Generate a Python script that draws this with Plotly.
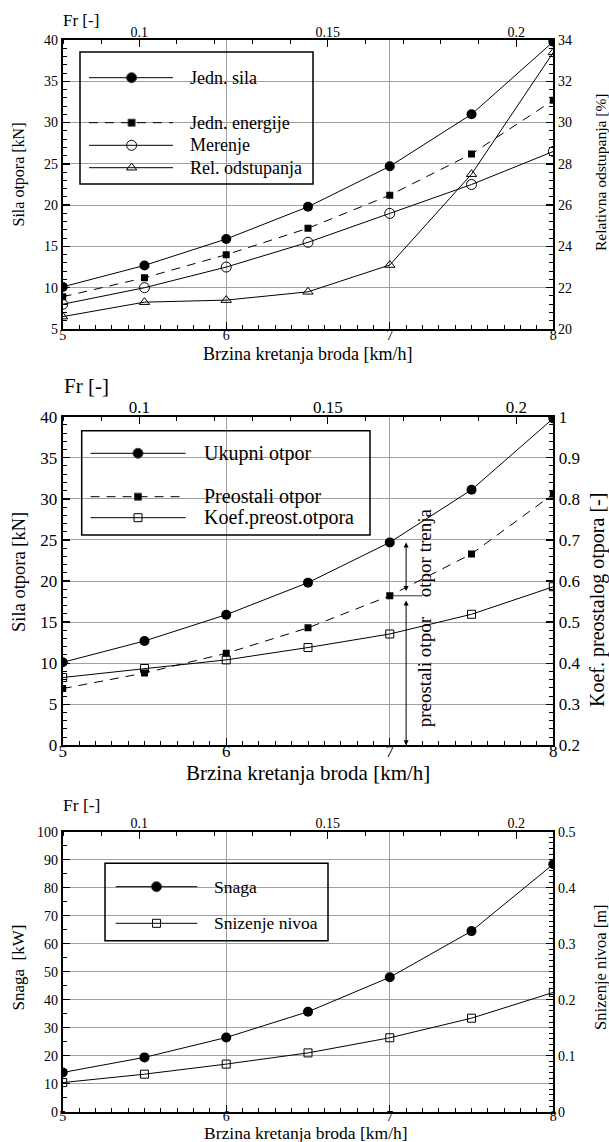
import plotly.graph_objects as go

# ---------------- data ----------------
speed = [5, 5.5, 6, 6.5, 7, 7.5, 8]           # km/h
x_ticks = [5, 6, 7, 8]
fr_ticks = [0.1, 0.15, 0.2]
fr_range = [0.0797, 0.2098]                  # Fr at 5 km/h and 8 km/h

# chart 1
jedn_sila = [10.1, 12.7, 15.9, 19.8, 24.7, 31.0, 39.8]
jedn_energije = [8.9, 11.2, 14.0, 17.2, 21.2, 26.2, 32.7]
merenje = [8.0, 10.0, 12.5, 15.5, 19.0, 22.5, 26.5]
rel_odstupanja = [20.6, 21.3, 21.4, 21.8, 23.1, 27.5, 33.4]
c1_left_ticks = [5, 10, 15, 20, 25, 30, 35, 40]
c1_right_ticks = [20, 22, 24, 26, 28, 30, 32, 34]

# chart 2
ukupni_otpor = [10.1, 12.7, 15.9, 19.8, 24.7, 31.1, 39.8]
preostali_otpor = [6.9, 8.8, 11.2, 14.3, 18.2, 23.3, 30.6]
koef_preost = [0.365, 0.387, 0.408, 0.438, 0.471, 0.519, 0.586]
c2_left_ticks = [0, 5, 10, 15, 20, 25, 30, 35, 40]
c2_right_ticks = [0.2, 0.3, 0.4, 0.5, 0.6, 0.7, 0.8, 0.9, 1]
c2_right_labels = ["0.2", "0.3", "0.4", "0.5", "0.6", "0.7", "0.8", "0.9", "1"]
split_speed = 7.1
split_total = 24.7
split_resid = 18.2

# chart 3
snaga = [14.0, 19.4, 26.5, 35.7, 48.0, 64.5, 88.4]
snizenje = [0.052, 0.067, 0.085, 0.105, 0.132, 0.167, 0.213]
c3_left_ticks = [0, 10, 20, 30, 40, 50, 60, 70, 80, 90, 100]
c3_right_ticks = [0, 0.1, 0.2, 0.3, 0.4, 0.5]
c3_right_labels = ["0", "0.1", "0.2", "0.3", "0.4", "0.5"]

# ---------------- layout helpers ----------------
W, H = 609, 1142
FONT = "Liberation Serif, Times New Roman, serif"
X_LEFT, X_RIGHT = 62.7, 553.3
C1 = (40.0, 329.0)
C2 = (416.7, 745.3)
C3 = (831.7, 1111.7)
GRID = "#a0a0a0"


def xd():
    return [X_LEFT / W, X_RIGHT / W]


def yd(c):
    return [1 - c[1] / H, 1 - c[0] / H]


def axis(fs, minor_dtick, grid, **kw):
    d = dict(showline=True, linecolor="black", linewidth=2, ticks="inside",
             ticklen=7, tickwidth=1.3, tickcolor="black", zeroline=False,
             automargin=False, showgrid=grid, gridcolor=GRID, gridwidth=1,
             tickfont=dict(family=FONT, size=fs, color="black"),
             minor=dict(ticks="inside", ticklen=4, tickwidth=1, tickcolor="black",
                        dtick=minor_dtick, showgrid=False),
             fixedrange=True)
    d.update(kw)
    return d


fig = go.Figure()
L = dict(color="black", width=1)
LD = dict(color="black", width=1, dash="9px,7px")

# chart 1 traces
fig.add_trace(go.Scatter(x=speed, y=jedn_sila, mode="lines+markers", line=L,
                         marker=dict(symbol="circle", size=10, color="black"), xaxis="x", yaxis="y"))
fig.add_trace(go.Scatter(x=speed, y=jedn_energije, mode="lines+markers", line=LD,
                         marker=dict(symbol="square", size=7, color="black"), xaxis="x", yaxis="y"))
fig.add_trace(go.Scatter(x=speed, y=merenje, mode="lines+markers", line=L,
                         marker=dict(symbol="circle-open", size=10, color="black", line=dict(width=1)),
                         xaxis="x", yaxis="y"))
fig.add_trace(go.Scatter(x=speed, y=rel_odstupanja, mode="lines+markers", line=L,
                         marker=dict(symbol="triangle-up-open", size=9, color="black", line=dict(width=1)),
                         xaxis="x", yaxis="y2"))

# chart 2 traces
fig.add_trace(go.Scatter(x=speed, y=ukupni_otpor, mode="lines+markers", line=L,
                         marker=dict(symbol="circle", size=10, color="black"), xaxis="x3", yaxis="y3"))
fig.add_trace(go.Scatter(x=speed, y=preostali_otpor, mode="lines+markers", line=LD,
                         marker=dict(symbol="square", size=7, color="black"), xaxis="x3", yaxis="y3"))
fig.add_trace(go.Scatter(x=speed, y=koef_preost, mode="lines+markers", line=L,
                         marker=dict(symbol="square-open", size=8, color="black", line=dict(width=1)),
                         xaxis="x3", yaxis="y4"))

# chart 3 traces
fig.add_trace(go.Scatter(x=speed, y=snaga, mode="lines+markers", line=L,
                         marker=dict(symbol="circle", size=10, color="black"), xaxis="x5", yaxis="y5"))
fig.add_trace(go.Scatter(x=speed, y=snizenje, mode="lines+markers", line=L,
                         marker=dict(symbol="square-open", size=8, color="black", line=dict(width=1)),
                         xaxis="x5", yaxis="y6"))

# ---------------- axes ----------------
lay = {}
charts = [
    ("", "2", "", "2", C1, 14, [5, 40], c1_left_ticks, 1, [20, 34], c1_right_ticks, None, 0.4, -8, -5),
    ("3", "4", "3", "4", C2, 17, [0, 40], c2_left_ticks, 1, [0.2, 1], c2_right_ticks, c2_right_labels, 0.02, -11, -5),
    ("5", "6", "5", "6", C3, 14, [0, 100], c3_left_ticks, 5, [0, 0.5], c3_right_ticks, c3_right_labels, 0.01, -10, -4),
]
for (xb, xt, yl, yr, c, fs, lr, lt, lmin, rr, rt, rtl, rmin, sb, st) in charts:
    xbn, xtn, yln, yrn = "x" + xb, "x" + xt, "y" + yl, "y" + yr
    lay["xaxis" + xb] = axis(fs, 0.1, True, domain=xd(), range=[5, 8], tickmode="array",
                             tickvals=x_ticks, anchor=yln, side="bottom", ticklabelstandoff=sb)
    lay["xaxis" + xt] = axis(fs, 0.01, False, domain=xd(), range=fr_range, tickmode="array",
                             tickvals=fr_ticks, anchor=yln, side="top", overlaying=xbn,
                             ticklabelstandoff=st)
    lay["yaxis" + yl] = axis(fs, lmin, True, domain=yd(c), range=lr, tickmode="array",
                             tickvals=lt, anchor=xbn, side="left")
    ry = dict(domain=yd(c), range=rr, tickmode="array", tickvals=rt, anchor=xbn,
              side="right", overlaying=yln)
    if rtl:
        ry["ticktext"] = rtl
    lay["yaxis" + yr] = axis(fs, rmin, False, **ry)
    # invisible helper trace so the Fr axes are drawn
    fig.add_trace(go.Scatter(x=fr_range, y=lr, mode="lines", line=dict(width=0),
                             opacity=0, hoverinfo="skip", xaxis=xtn, yaxis=yln))

# pixel overlay axes for legends / labels
lay["xaxis7"] = dict(domain=[0, 1], range=[0, W], visible=False, anchor="y7", fixedrange=True)
lay["yaxis7"] = dict(domain=[0, 1], range=[H, 0], visible=False, anchor="x7", fixedrange=True)

shapes = []
annotations = []


def txt(x, y, s, size, angle=0, xanchor="center"):
    annotations.append(dict(x=x, y=y, xref="x7", yref="y7", text=s, showarrow=False,
                            textangle=angle, xanchor=xanchor, yanchor="middle",
                            font=dict(family=FONT, size=size, color="black")))


# legends (box, entries)
legends = [
    dict(box=(80, 52, 313, 184), line=(89, 173), mk=131.6, tx=188, fs=18,
         items=[(77.7, "Jedn. sila", "solid", "circle", 10),
                (122.7, "Jedn. energije", "dash", "square", 7),
                (145.3, "Merenje", "solid", "circle-open", 10),
                (167.7, "Rel. odstupanja", "solid", "triangle-up-open", 9)]),
    dict(box=(81.7, 430.7, 370, 535), line=(90.5, 185.6), mk=138, tx=202, fs=20,
         items=[(453.3, "Ukupni otpor", "solid", "circle", 10),
                (496.7, "Preostali otpor", "dash", "square", 7),
                (517.7, "Koef.preost.otpora", "solid", "square-open", 8)]),
    dict(box=(105, 863.3, 328, 940.7), line=(115.7, 197.3), mk=156.5, tx=211.6, fs=17.5,
         items=[(886.7, "Snaga", "solid", "circle", 10),
                (923.3, "Snizenje nivoa", "solid", "square-open", 8)]),
]
for lg in legends:
    x0, y0, x1, y1 = lg["box"]
    shapes.append(dict(type="rect", xref="x7", yref="y7", x0=x0, y0=y0, x1=x1, y1=y1,
                       line=dict(color="black", width=1.5)))
    for (yy, name, dash, sym, sz) in lg["items"]:
        shapes.append(dict(type="line", xref="x7", yref="y7", x0=lg["line"][0], x1=lg["line"][1],
                           y0=yy, y1=yy,
                           line=dict(color="black", width=1, dash="9px,7px" if dash == "dash" else "solid")))
        fig.add_trace(go.Scatter(x=[lg["mk"]], y=[yy], mode="markers", xaxis="x7", yaxis="y7",
                                 marker=dict(symbol=sym, size=sz, color="black", line=dict(width=1)),
                                 hoverinfo="skip"))
        txt(lg["tx"], yy, name, lg["fs"], xanchor="left")

# axis titles
txt(307, 354, "Brzina kretanja broda [km/h]", 18)
txt(18.5, 175, "Sila otpora [kN]", 16, -90)
txt(600, 172, "Relativna odstupanja [%]", 15.5, -90)
txt(81, 20, "Fr [-]", 17)

txt(308, 773, "Brzina kretanja broda [km/h]", 21)
txt(19, 572, "Sila otpora [kN]", 18.5, -90)
txt(597, 600, "Koef. preostalog otpora [-]", 20, -90)
txt(86, 386, "Fr [-]", 21)

txt(306, 1133, "Brzina kretanja broda [km/h]", 17.5)
txt(17.5, 968, "Snaga  [kW]", 17, -90)
txt(600, 967, "Snizenje nivoa [m]", 16.5, -90)
txt(81, 805, "Fr [-]", 17.5)

# chart 2 split arrows
arrow = dict(xref="x3", yref="y3", axref="x3", ayref="y3", showarrow=True, text="",
             arrowhead=2, arrowsize=1, arrowwidth=1, arrowcolor="black", arrowside="end+start")
annotations.append(dict(arrow, x=split_speed, y=split_total, ax=split_speed, ay=split_resid + 0.4))
annotations.append(dict(arrow, x=split_speed, y=0, ax=split_speed, ay=split_resid - 0.4))
shapes.append(dict(type="line", xref="x3", yref="y3", x0=7.0, x1=7.2, y0=split_resid, y1=split_resid,
                   line=dict(color="black", width=0.8)))
annotations.append(dict(x=7.21, y=23.4, xref="x3", yref="y3", text="otpor trenja", showarrow=False,
                        textangle=-90, font=dict(family=FONT, size=19, color="black")))
annotations.append(dict(x=7.21, y=8.9, xref="x3", yref="y3", text="preostali otpor", showarrow=False,
                        textangle=-90, font=dict(family=FONT, size=19, color="black")))

fig.update_layout(
    width=W, height=H, margin=dict(l=0, r=0, t=0, b=0),
    paper_bgcolor="white", plot_bgcolor="rgba(0,0,0,0)",
    showlegend=False, template="none",
    font=dict(family=FONT, color="black"),
    shapes=shapes, annotations=annotations, **lay)

fig.write_html("out.html", config={"displayModeBar": False, "staticPlot": True},
               post_script="document.body.style.margin='0';")
